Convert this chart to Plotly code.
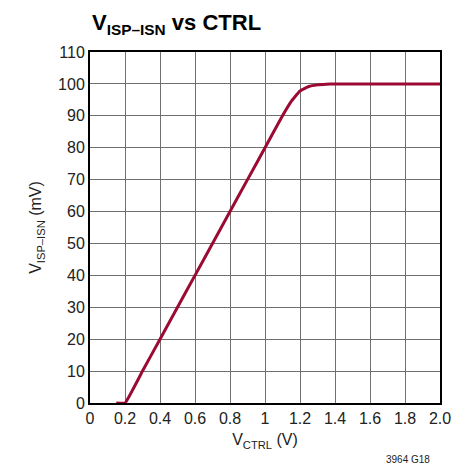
import plotly.graph_objects as go

ctrl_v = [0.15, 0.2, 0.3, 0.4, 0.5, 0.6, 0.7, 0.8, 0.9, 1.0, 1.1, 1.15, 1.2, 1.25, 1.3, 1.35, 1.4, 1.6, 1.8, 2.0]
visp_mv = [0, 0, 10, 20, 30, 40, 50, 60, 70, 80, 90, 94.5, 97.8, 99.2, 99.7, 99.9, 100, 100, 100, 100]

x_ticks = [0, 0.2, 0.4, 0.6, 0.8, 1.0, 1.2, 1.4, 1.6, 1.8, 2.0]
x_labels = ["0", "0.2", "0.4", "0.6", "0.8", "1", "1.2", "1.4", "1.6", "1.8", "2.0"]
y_ticks = list(range(0, 111, 10))

FONT = "Liberation Sans Narrow, Arial Narrow, Liberation Sans, sans-serif"

fig = go.Figure()
fig.add_trace(go.Scatter(x=ctrl_v, y=visp_mv, mode="lines",
                         line=dict(color="#9b0a32", width=3, shape="spline", smoothing=0.3),
                         showlegend=False, hoverinfo="skip"))

axis_common = dict(showgrid=True, gridcolor="#707070", gridwidth=1.2,
                   showline=True, linecolor="black", linewidth=2, mirror=True,
                   ticks="", zeroline=False, tickfont=dict(size=16, color="#222"))

fig.update_xaxes(range=[0, 2.0], tickvals=x_ticks, ticktext=x_labels,
                 title=dict(text="V<sub>CTRL</sub> (V)", font=dict(size=16, color="#222"), standoff=8),
                 **axis_common)
fig.update_yaxes(range=[0, 110], tickvals=y_ticks,
                 title=dict(text="V<sub>ISP–ISN</sub> (mV)", font=dict(size=16, color="#222"), standoff=12),
                 **axis_common)

fig.update_layout(
    width=472, height=471,
    margin=dict(l=90, r=32, t=52, b=68),
    plot_bgcolor="white", paper_bgcolor="white",
    font=dict(family=FONT, color="#222"),
    title=dict(text="<b>V<sub>ISP–ISN</sub> vs CTRL</b>", x=92/472, xanchor="left",
               y=1 - 30/471, yanchor="bottom", font=dict(size=22, color="black", family=FONT)),
    annotations=[dict(text="3964 G18", x=1, xref="paper", xanchor="right", xshift=-8,
                      y=0, yref="paper", yshift=-64, yanchor="bottom", showarrow=False,
                      font=dict(size=10, color="#222", family=FONT))],
)

fig.write_html("out.html", config={"displayModeBar": False},
               post_script="document.body.style.margin='0';document.body.style.padding='0';")
